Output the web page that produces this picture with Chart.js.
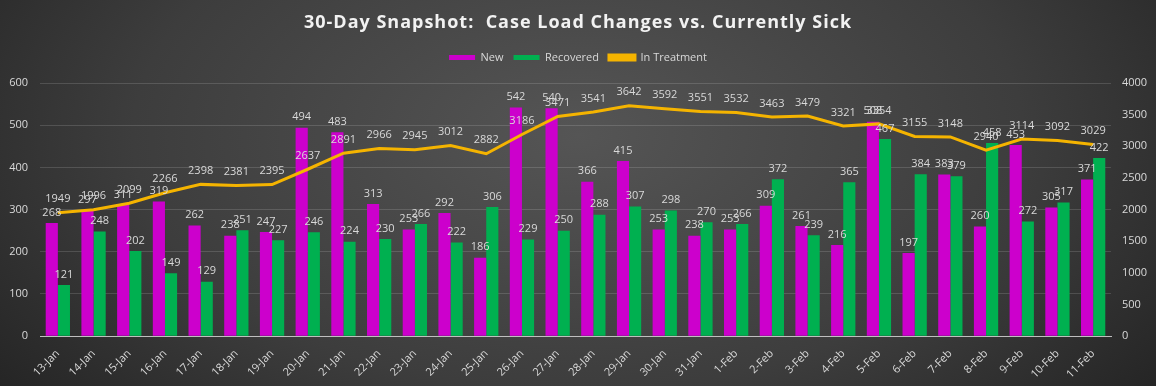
<!DOCTYPE html>
<html>
<head>
<meta charset="utf-8">
<script src="https://cdn.jsdelivr.net/npm/chart.js@4"></script>
<style>
  html, body { margin: 0; padding: 0; }
  body {
    width: 1156px; height: 386px; overflow: hidden;
    background: radial-gradient(ellipse 70% 120% at 50% 35%, #555555 0%, #3d3d3d 55%, #1e1e1e 100%);
  }
  #wrap { position: relative; width: 1156px; height: 386px; }
</style>
</head>
<body>
<div id="wrap"><canvas id="chart"></canvas></div>
<script>
const days = ['13-Jan', '14-Jan', '15-Jan', '16-Jan', '17-Jan', '18-Jan', '19-Jan', '20-Jan', '21-Jan', '22-Jan',
  '23-Jan', '24-Jan', '25-Jan', '26-Jan', '27-Jan', '28-Jan', '29-Jan', '30-Jan', '31-Jan', '1-Feb',
  '2-Feb', '3-Feb', '4-Feb', '5-Feb', '6-Feb', '7-Feb', '8-Feb', '9-Feb', '10-Feb', '11-Feb'];
const newCases = [268, 297, 311, 319, 262, 238, 247, 494, 483, 313, 253, 292, 186, 542, 540,
  366, 415, 253, 238, 253, 309, 261, 216, 508, 197, 383, 260, 453, 305, 371];
const recovered = [121, 248, 202, 149, 129, 251, 227, 246, 224, 230, 266, 222, 306, 229, 250,
  288, 307, 298, 270, 266, 372, 239, 365, 467, 384, 379, 458, 272, 317, 422];
const inTreatment = [1949, 1996, 2099, 2266, 2398, 2381, 2395, 2637, 2891, 2966, 2945, 3012, 2882, 3186, 3471,
  3541, 3642, 3592, 3551, 3532, 3463, 3479, 3321, 3354, 3155, 3148, 2940, 3114, 3092, 3029];

const titleText = '30-Day Snapshot:  Case Load Changes vs. Currently Sick';
const textColor = '#d9d9d9';
const fontFamily = '"Open Sans", "Liberation Sans", sans-serif';

// title drawn by hand so it can get the wide letter spacing of the original
const spacedTitle = {
  id: 'spacedTitle',
  afterDraw(chart) {
    const ctx = chart.ctx;
    ctx.save();
    ctx.font = 'bold 18px ' + fontFamily;
    ctx.letterSpacing = '1px';
    ctx.fillStyle = '#f2f2f2';
    ctx.textAlign = 'center';
    ctx.textBaseline = 'middle';
    ctx.fillText(titleText, chart.width / 2, 23);
    ctx.restore();
  }
};

// a bit more room under the legend
const legendGap = {
  id: 'legendGap',
  beforeInit(chart) {
    const origFit = chart.legend.fit;
    chart.legend.fit = function () {
      origFit.call(this);
      this.height += 10;
    };
  }
};

// simple value labels, like Excel data labels
const valueLabels = {
  id: 'valueLabels',
  afterDatasetsDraw(chart) {
    const ctx = chart.ctx;
    ctx.save();
    ctx.font = '11px ' + fontFamily;
    ctx.fillStyle = textColor;
    ctx.textAlign = 'center';
    ctx.textBaseline = 'bottom';
    chart.data.datasets.forEach((ds, i) => {
      const meta = chart.getDatasetMeta(i);
      meta.data.forEach((el, j) => {
        const off = ds.type === 'line' ? 8 : 5;
        ctx.fillText(String(ds.data[j]), el.x, el.y - off);
      });
    });
    ctx.restore();
  }
};

new Chart(document.getElementById('chart'), {
  type: 'bar',
  data: {
    labels: days,
    datasets: [
      {
        label: 'New',
        data: newCases,
        backgroundColor: '#cc00cc',
        yAxisID: 'y',
        order: 1,
        barPercentage: 1,
        categoryPercentage: 0.68
      },
      {
        label: 'Recovered',
        data: recovered,
        backgroundColor: '#00b050',
        yAxisID: 'y',
        order: 1,
        barPercentage: 1,
        categoryPercentage: 0.68
      },
      {
        type: 'line',
        label: 'In Treatment',
        data: inTreatment,
        borderColor: '#f5b400',
        backgroundColor: '#f5b400',
        borderWidth: 3,
        pointRadius: 0,
        tension: 0,
        yAxisID: 'y2',
        order: 0
      }
    ]
  },
  options: {
    responsive: true,
    maintainAspectRatio: false,
    animation: false,
    layout: { autoPadding: false, padding: { left: 8, right: 8, top: 42, bottom: 2 } },
    plugins: {
      title: { display: false },
      legend: {
        labels: {
          color: textColor,
          font: { family: fontFamily, size: 11 },
          boxWidth: 26,
          boxHeight: 5,
          padding: 10,
          sort: (a, b) => a.datasetIndex - b.datasetIndex
        }
      },
      tooltip: { enabled: false }
    },
    scales: {
      x: {
        grid: { display: false },
        border: { color: '#bfbfbf' },
        ticks: {
          color: textColor,
          font: { family: fontFamily, size: 11 },
          maxRotation: 45,
          minRotation: 45,
          autoSkip: false
        }
      },
      y: {
        position: 'left',
        min: 0,
        max: 600,
        afterFit: s => { s.width = 32; },
        ticks: { stepSize: 100, color: textColor, font: { family: fontFamily, size: 11 }, padding: 12 },
        grid: { color: 'rgba(255,255,255,0.14)', drawTicks: false },
        border: { display: false }
      },
      y2: {
        position: 'right',
        min: 0,
        max: 4000,
        afterFit: s => { s.width = 37; },
        ticks: {
          stepSize: 500,
          color: textColor,
          font: { family: fontFamily, size: 11 },
          padding: 11,
          callback: v => String(v)
        },
        grid: { display: false, drawTicks: false },
        border: { display: false }
      }
    }
  },
  plugins: [valueLabels, spacedTitle, legendGap]
});
</script>
</body>
</html>
